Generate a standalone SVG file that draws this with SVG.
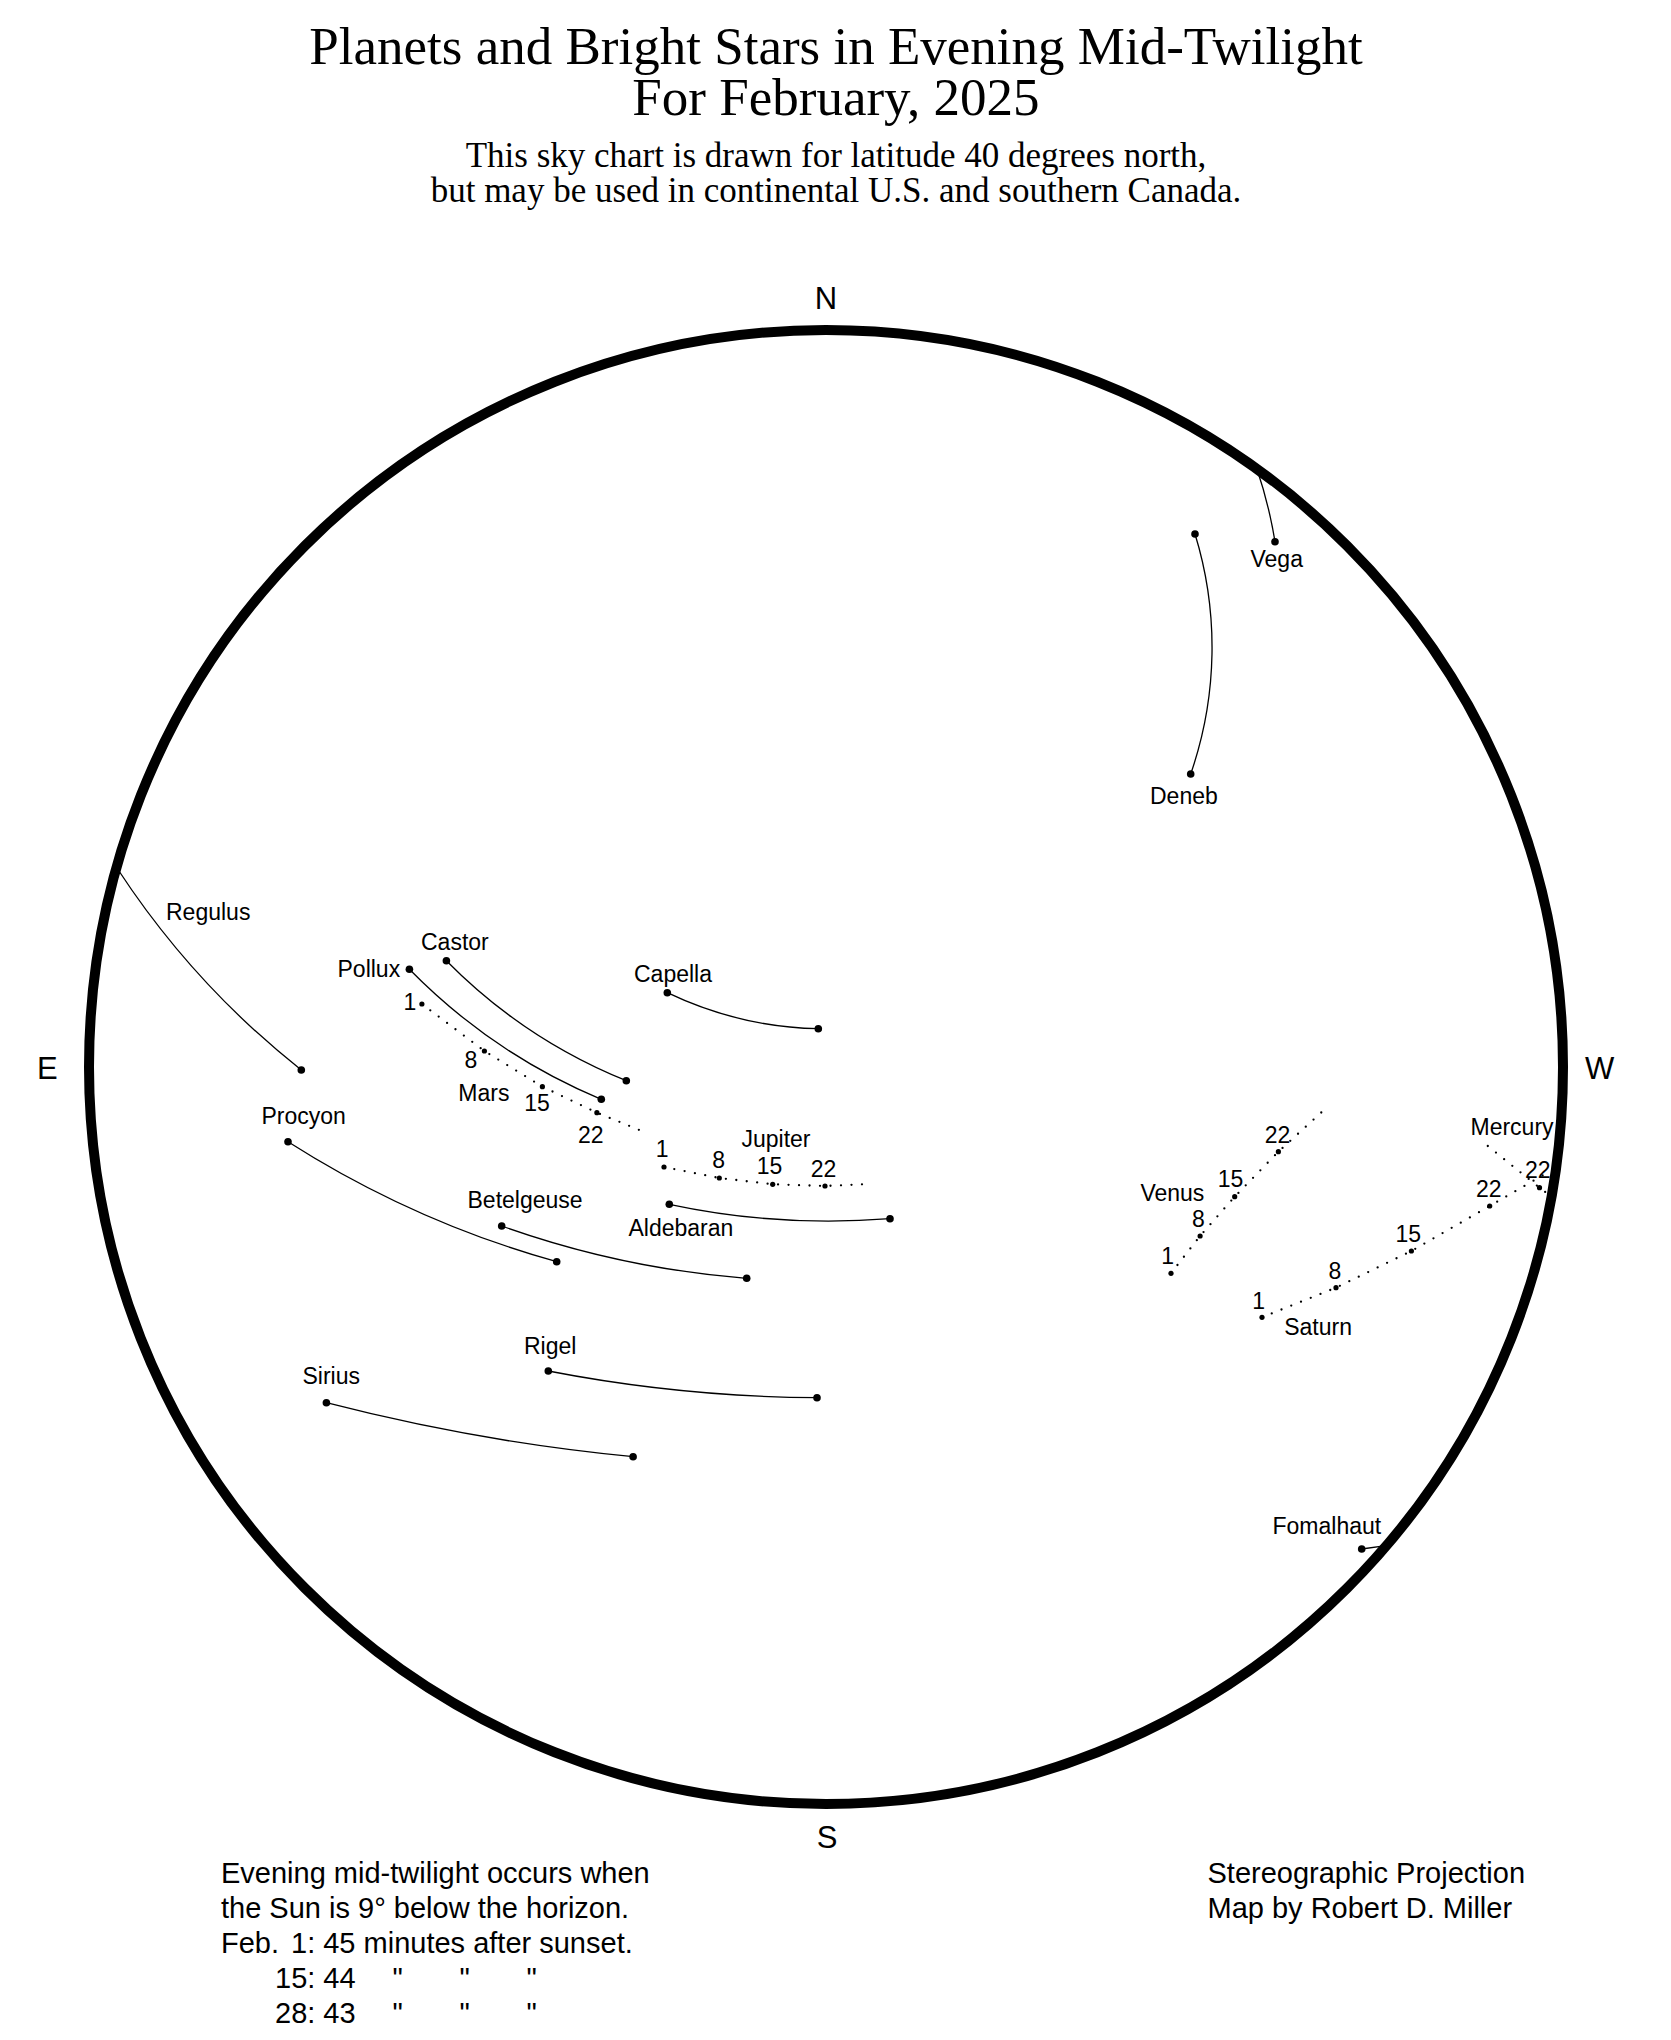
<svg xmlns="http://www.w3.org/2000/svg" width="1671" height="2040" viewBox="0 0 1671 2040">
<style>
.ttl{font-family:"Liberation Serif","Times New Roman",serif;font-size:53px;fill:#000;text-anchor:middle}
.sub{font-family:"Liberation Serif","Times New Roman",serif;font-size:35px;fill:#000;text-anchor:middle}
.dir{font-family:"Liberation Sans",Arial,sans-serif;font-size:31px;fill:#000}
.lbl{font-family:"Liberation Sans",Arial,sans-serif;font-size:23px;fill:#000}
.note{font-family:"Liberation Sans",Arial,sans-serif;font-size:29px;fill:#000}
.trk{fill:none;stroke:#000;stroke-width:1.3}
.dotted{fill:none;stroke:#000;stroke-width:2.3;stroke-linecap:round;stroke-dasharray:0 10.5}
.star{fill:#000}
</style>
<rect width="1671" height="2040" fill="#fff"/>
<g id="title">
<text class="ttl" x="836" y="63.5">Planets and Bright Stars in Evening Mid-Twilight</text>
<text class="ttl" x="836" y="115">For February, 2025</text>
<text class="sub" x="836" y="167">This sky chart is drawn for latitude 40 degrees north,</text>
<text class="sub" x="836" y="202">but may be used in continental U.S. and southern Canada.</text>
</g>
<g id="horizon">
<circle cx="826" cy="1067" r="737" fill="none" stroke="#000" stroke-width="10"/>
<text class="dir" x="826" y="309" text-anchor="middle">N</text>
<text class="dir" x="827" y="1848" text-anchor="middle">S</text>
<text class="dir" x="37" y="1079">E</text>
<text class="dir" x="1585" y="1079">W</text>
</g>
<g id="connectors">
<path id="trk-vega" class="trk" d="M1256.7,468.3 A455,455 0 0 1 1275,541.7"/>
<path id="trk-deneb" class="trk" d="M1195,534 A386,386 0 0 1 1190.7,774"/>
<path id="trk-regulus" class="trk" d="M118.3,870 A847,847 0 0 0 301.3,1070"/>
<path id="trk-castor" class="trk" d="M446.4,960.7 A533,533 0 0 0 626.3,1080.7"/>
<path id="trk-pollux" class="trk" d="M409.4,969.3 A585,585 0 0 0 601.3,1099.3"/>
<path id="trk-capella" class="trk" d="M667.3,992.7 A367,367 0 0 0 818.3,1028.7"/>
<path id="trk-aldebaran" class="trk" d="M669.3,1204.3 A763,763 0 0 0 890,1218.7"/>
<path id="trk-betelgeuse" class="trk" d="M501.7,1226 A947,947 0 0 0 746.7,1278.3"/>
<path id="trk-procyon" class="trk" d="M288,1141.7 A1001,1001 0 0 0 556.7,1261.7"/>
<path id="trk-rigel" class="trk" d="M548.3,1371 A1461,1461 0 0 0 817,1397.7"/>
<path id="trk-sirius" class="trk" d="M326.4,1402.7 A1987,1987 0 0 0 633.1,1456.7"/>
<path id="trk-fomalhaut" class="trk" d="M1361.7,1549 L1386,1545.7"/>
<path id="trk-mars" class="dotted" d="M421.9,1004 L484.4,1051 L542.4,1086.7 L596.9,1112.7 L642.3,1131.2"/>
<path id="trk-jupiter" class="dotted" d="M664,1167 L719.3,1178 L772.7,1184.3 L825,1186 L870,1184"/>
<path id="trk-venus" class="dotted" d="M1171,1273.3 L1200.1,1236 L1234.7,1196.7 L1278.4,1151.7 L1327.6,1106.7"/>
<path id="trk-saturn" class="dotted" d="M1262,1317.3 L1336,1287.7 L1411.4,1251 L1489.7,1206 L1545,1174"/>
<path id="trk-mercury" class="dotted" d="M1487.8,1146 L1539.5,1187.7 L1550.5,1196"/>
</g>
<g id="vega"><circle class="star" cx="1275" cy="541.7" r="3.8"/><text class="lbl" x="1250.5" y="567.3">Vega</text></g>
<g id="deneb"><circle class="star" cx="1195" cy="534" r="3.8"/><circle class="star" cx="1190.7" cy="774" r="3.8"/><text class="lbl" x="1150" y="804">Deneb</text></g>
<g id="regulus"><circle class="star" cx="301.3" cy="1070" r="3.8"/><text class="lbl" x="166" y="920">Regulus</text></g>
<g id="castor"><circle class="star" cx="446.4" cy="960.7" r="3.8"/><circle class="star" cx="626.3" cy="1080.7" r="3.8"/><text class="lbl" x="421" y="950">Castor</text></g>
<g id="pollux"><circle class="star" cx="409.4" cy="969.3" r="3.8"/><circle class="star" cx="601.3" cy="1099.3" r="3.8"/><text class="lbl" x="337.5" y="976.7">Pollux</text></g>
<g id="capella"><circle class="star" cx="667.3" cy="992.7" r="3.8"/><circle class="star" cx="818.3" cy="1028.7" r="3.8"/><text class="lbl" x="634" y="981.7">Capella</text></g>
<g id="mars">
<circle class="star" cx="421.9" cy="1004" r="2.6"/><circle class="star" cx="484.4" cy="1051" r="2.6"/><circle class="star" cx="542.4" cy="1086.7" r="2.6"/><circle class="star" cx="596.9" cy="1112.7" r="2.6"/>
<text class="lbl" x="403.5" y="1010">1</text><text class="lbl" x="464.6" y="1068.3">8</text><text class="lbl" x="524.3" y="1111">15</text><text class="lbl" x="578" y="1142.7">22</text>
<text class="lbl" x="458.3" y="1100.7">Mars</text>
</g>
<g id="jupiter">
<circle class="star" cx="664" cy="1167" r="2.6"/><circle class="star" cx="719.3" cy="1178" r="2.6"/><circle class="star" cx="772.7" cy="1184.3" r="2.6"/><circle class="star" cx="825" cy="1186" r="2.6"/>
<text class="lbl" x="655.8" y="1157.3">1</text><text class="lbl" x="712.3" y="1168.3">8</text><text class="lbl" x="756.8" y="1174">15</text><text class="lbl" x="810.7" y="1176.7">22</text>
<text class="lbl" x="741.5" y="1146.7">Jupiter</text>
</g>
<g id="aldebaran"><circle class="star" cx="669.3" cy="1204.3" r="3.8"/><circle class="star" cx="890" cy="1218.7" r="3.8"/><text class="lbl" x="628.5" y="1236">Aldebaran</text></g>
<g id="betelgeuse"><circle class="star" cx="501.7" cy="1226" r="3.8"/><circle class="star" cx="746.7" cy="1278.3" r="3.8"/><text class="lbl" x="467.5" y="1208.3">Betelgeuse</text></g>
<g id="procyon"><circle class="star" cx="288" cy="1141.7" r="3.8"/><circle class="star" cx="556.7" cy="1261.7" r="3.8"/><text class="lbl" x="261.5" y="1124">Procyon</text></g>
<g id="rigel"><circle class="star" cx="548.3" cy="1371" r="3.8"/><circle class="star" cx="817" cy="1397.7" r="3.8"/><text class="lbl" x="524" y="1354">Rigel</text></g>
<g id="sirius"><circle class="star" cx="326.4" cy="1402.7" r="3.8"/><circle class="star" cx="633.1" cy="1456.7" r="3.8"/><text class="lbl" x="302.5" y="1384">Sirius</text></g>
<g id="venus">
<circle class="star" cx="1171" cy="1273.3" r="2.6"/><circle class="star" cx="1200.1" cy="1236" r="2.6"/><circle class="star" cx="1234.7" cy="1196.7" r="2.6"/><circle class="star" cx="1278.4" cy="1151.7" r="2.6"/>
<text class="lbl" x="1161.2" y="1264">1</text><text class="lbl" x="1191.9" y="1226.7">8</text><text class="lbl" x="1217.7" y="1187.3">15</text><text class="lbl" x="1264.7" y="1143.3">22</text>
<text class="lbl" x="1140.4" y="1200.7">Venus</text>
</g>
<g id="saturn">
<circle class="star" cx="1262" cy="1317.3" r="2.6"/><circle class="star" cx="1336" cy="1287.7" r="2.6"/><circle class="star" cx="1411.4" cy="1251" r="2.6"/><circle class="star" cx="1489.7" cy="1206" r="2.6"/>
<text class="lbl" x="1252.3" y="1309.3">1</text><text class="lbl" x="1328.4" y="1279">8</text><text class="lbl" x="1395.4" y="1242.3">15</text><text class="lbl" x="1475.9" y="1197.3">22</text>
<text class="lbl" x="1284.2" y="1335">Saturn</text>
</g>
<g id="mercury">
<circle class="star" cx="1539.5" cy="1187.7" r="2.6"/>
<text class="lbl" x="1525" y="1178.3">22</text>
<text class="lbl" x="1470.5" y="1135">Mercury</text>
</g>
<g id="fomalhaut"><circle class="star" cx="1361.7" cy="1549" r="3.8"/><text class="lbl" x="1272.5" y="1534">Fomalhaut</text></g>
<g id="notes">
<text class="note" x="221" y="1883">Evening mid-twilight occurs when</text>
<text class="note" x="221" y="1918">the Sun is 9° below the horizon.</text>
<text class="note" y="1953"><tspan x="221">Feb.</tspan><tspan x="291">1: 45 minutes after sunset.</tspan></text>
<text class="note" y="1988"><tspan x="275">15: 44</tspan><tspan x="392.5">"</tspan><tspan x="459.5">"</tspan><tspan x="526.4">"</tspan></text>
<text class="note" y="2023"><tspan x="275">28: 43</tspan><tspan x="392.5">"</tspan><tspan x="459.5">"</tspan><tspan x="526.4">"</tspan></text>
<text class="note" x="1207.5" y="1883">Stereographic Projection</text>
<text class="note" x="1207.5" y="1918">Map by Robert D. Miller</text>
</g>
</svg>
